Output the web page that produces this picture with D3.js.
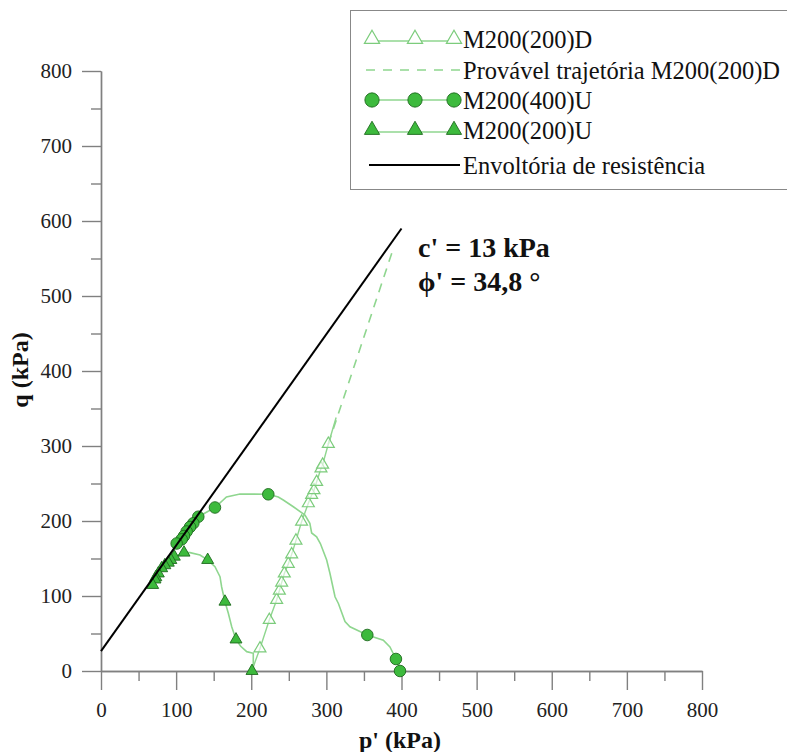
<!DOCTYPE html>
<html><head><meta charset="utf-8">
<script src="https://cdn.jsdelivr.net/npm/d3@7"></script>
<style>
html,body{margin:0;padding:0;background:#fff;}
svg text{font-family:"Liberation Serif","Times New Roman",serif !important;}
</style></head>
<body>
<svg id="chart" width="787" height="752"></svg>
<script>
// ---------- data ----------
const xTicks = [0,100,200,300,400,500,600,700,800];
const yTicks = [0,100,200,300,400,500,600,700,800];
const minorTicks = [50,150,250,350,450,550,650,750];

// M200(200)D  (drained, open triangles)
const d200Path = [[201,0],[205,12],[211.6,30],[224,68],[233.8,94.7],[237.4,107],[240.5,117.8],[244,130],[249.3,142.7],[253.8,155.5],[259.5,173.8],[267,199],[276,223.6],[280.4,234.7],[283.5,241],[287,252],[292.8,270],[295,275],[302.6,302.7],[313,338]];
const d200Markers = [[211.6,30],[224,68],[233.8,94.7],[237.4,107],[240.5,117.8],[244,130],[249.3,142.7],[253.8,155.5],[259.5,173.8],[267,199],[276,223.6],[280.4,234.7],[283.5,241],[287,252],[292.8,270],[295,275],[302.6,302.7]];
// Provável trajetória M200(200)D (dashed)
const d200Probable = [[302.6,302.7],[390,566]];

// M200(400)U (filled circles)
const u400Path = [[398,0],[397,8],[392.6,16],[384.6,32],[375.8,41],[354.5,48],[331.4,59],[324.8,66],[316,90],[311.5,99],[304.8,130],[300.4,148],[292,170],[287,179],[280.4,184],[278,197],[271.5,208],[256,219],[242.6,228],[236,232],[222.7,235.6],[185,236],[167,232],[151.7,218],[129.5,205.7],[122.9,197],[118.5,192],[114,186],[110.5,180],[107.4,175.6],[100.7,170],[97,168]];
const u400Markers = [[398,0],[392.6,16],[354.5,48],[222.7,235.6],[151.7,218],[129.5,205.7],[122.9,197],[118.5,192],[114,186],[110.5,180],[107.4,175.6],[100.7,170]];

// M200(200)U (filled triangles)
const u200Path = [[201,0],[202.7,10],[202.7,23.6],[194,25.8],[186,33],[179.7,42],[174,59],[169.5,77],[165,92.4],[160.6,112],[158.4,125.7],[151.7,139],[142,148],[131.8,154.7],[118.5,157.8],[110.5,157.8],[97.6,152.4],[89.6,144.4],[80.8,137],[76.3,130],[71.9,122],[68.8,114.7]];
const u200Markers = [[201,0],[179.7,42],[165,92.4],[142,148],[110.5,157.8],[97.6,152.4],[93,148],[89.6,144.4],[85,141],[80.8,137],[76.3,130],[73,125],[71.9,122],[68.8,114.7]];

// Envoltória de resistência (c' = 13 kPa, phi' = 34.8°)
const envelope = [[0,26.4],[400,590]];

const legendLabels = ["M200(200)D","Provável trajetória M200(200)D","M200(400)U","M200(200)U","Envoltória de resistência"];

// ---------- styles ----------
const lineGreen = "#8fd68f";
const openGreen = "#7ccc7c";
const fillGreen = "#3dba3d";
const darkGreen = "#1e6a1e";
const axisGray = "#808080";
const serif = "Liberation Serif";

const svg = d3.select("#chart");
const x = d3.scaleLinear().domain([0,800]).range([101,702]);
const y = d3.scaleLinear().domain([0,800]).range([671,71]);

// axes
const xAxisG = svg.append("g").attr("transform","translate(0,671)");
xAxisG.call(d3.axisBottom(x).tickValues(xTicks).tickSize(19).tickSizeOuter(0).tickPadding(12).tickFormat(d3.format("d")));
const xMinor = svg.append("g").attr("transform","translate(0,671)");
xMinor.call(d3.axisBottom(x).tickValues(minorTicks).tickSize(10).tickSizeOuter(0).tickFormat(""));
const yAxisG = svg.append("g").attr("transform","translate(101,0)");
yAxisG.call(d3.axisLeft(y).tickValues(yTicks).tickSize(19).tickSizeOuter(0).tickPadding(10).tickFormat(d3.format("d")));
const yMinor = svg.append("g").attr("transform","translate(101,0)");
yMinor.call(d3.axisLeft(y).tickValues(minorTicks).tickSize(10).tickSizeOuter(0).tickFormat(""));
[xAxisG,xMinor,yAxisG,yMinor].forEach(g=>g.attr("font-family",serif).attr("font-size",21));
svg.selectAll(".domain, .tick line").attr("stroke",axisGray).attr("stroke-width",1.4);
svg.selectAll(".tick text").style("font-family",serif).attr("font-size",21).attr("fill","#222");

// axis titles
svg.append("text").attr("x",400).attr("y",748).attr("text-anchor","middle")
  .attr("font-weight","bold").attr("font-size",24).attr("fill","#111").text("p' (kPa)");
svg.append("text").attr("transform","translate(28,370) rotate(-90)").attr("text-anchor","middle")
  .attr("font-weight","bold").attr("font-size",24).attr("fill","#111").text("q (kPa)");

const line = d3.line().x(d=>x(d[0])).y(d=>y(d[1]));
const tri = d3.symbol().type(d3.symbolTriangle);
const circ = d3.symbol().type(d3.symbolCircle);

// data lines
svg.append("path").datum(u400Path).attr("d",line).attr("fill","none").attr("stroke",lineGreen).attr("stroke-width",1.6);
svg.append("path").datum(u200Path).attr("d",line).attr("fill","none").attr("stroke",lineGreen).attr("stroke-width",1.6);
svg.append("path").datum(d200Path).attr("d",line).attr("fill","none").attr("stroke",lineGreen).attr("stroke-width",1.4);
svg.append("path").datum(d200Probable).attr("d",line).attr("fill","none").attr("stroke",lineGreen).attr("stroke-width",1.6).attr("stroke-dasharray","9,7");

// markers
svg.append("g").selectAll("path").data(d200Markers).join("path")
  .attr("d",tri.size(62)).attr("transform",d=>`translate(${x(d[0])},${y(d[1])})`)
  .attr("fill","#fff").attr("fill-opacity",0.6).attr("stroke",openGreen).attr("stroke-width",1.2);
svg.append("g").selectAll("path").data(u200Markers).join("path")
  .attr("d",tri.size(62)).attr("transform",d=>`translate(${x(d[0])},${y(d[1])})`)
  .attr("fill",fillGreen).attr("stroke",darkGreen).attr("stroke-width",0.9);
svg.append("g").selectAll("path").data(u400Markers).join("path")
  .attr("d",circ.size(105)).attr("transform",d=>`translate(${x(d[0])},${y(d[1])})`)
  .attr("fill",fillGreen).attr("stroke",darkGreen).attr("stroke-width",0.9);

// envelope
svg.append("path").datum(envelope).attr("d",line).attr("fill","none").attr("stroke","#000").attr("stroke-width",2);

// annotation
svg.append("text").attr("x",418).attr("y",257).attr("font-weight","bold").attr("font-size",28).attr("fill","#111").text("c' = 13 kPa");
svg.append("text").attr("x",418).attr("y",291).attr("font-weight","bold").attr("font-size",28).attr("fill","#111").text("ϕ' = 34,8 °");

// legend
const lg = svg.append("g");
lg.append("rect").attr("x",350.5).attr("y",10.5).attr("width",460).attr("height",179).attr("fill","#fff").attr("stroke","#888").attr("stroke-width",1);
const rowsY = [39,70,100,130,165];
const sx = [372,415,454];
const textX = 463;
// row 0 : open triangles
lg.append("line").attr("x1",sx[0]).attr("x2",sx[2]).attr("y1",rowsY[0]+2).attr("y2",rowsY[0]+2).attr("stroke",lineGreen).attr("stroke-width",1.4);
sx.forEach(px=>lg.append("path").attr("d",tri.size(100)).attr("transform",`translate(${px},${rowsY[0]})`).attr("fill","#fff").attr("stroke",openGreen).attr("stroke-width",1.2));
// row 1 : dashed
lg.append("line").attr("x1",366).attr("x2",460).attr("y1",rowsY[1]).attr("y2",rowsY[1]).attr("stroke",lineGreen).attr("stroke-width",1.6).attr("stroke-dasharray","9,8");
// row 2 : circles
lg.append("line").attr("x1",sx[0]).attr("x2",sx[2]).attr("y1",rowsY[2]).attr("y2",rowsY[2]).attr("stroke",lineGreen).attr("stroke-width",1.6);
sx.forEach(px=>lg.append("path").attr("d",circ.size(160)).attr("transform",`translate(${px},${rowsY[2]})`).attr("fill",fillGreen).attr("stroke",darkGreen).attr("stroke-width",0.9));
// row 3 : filled triangles
lg.append("line").attr("x1",sx[0]).attr("x2",sx[2]).attr("y1",rowsY[3]+2).attr("y2",rowsY[3]+2).attr("stroke",lineGreen).attr("stroke-width",1.6);
sx.forEach(px=>lg.append("path").attr("d",tri.size(100)).attr("transform",`translate(${px},${rowsY[3]})`).attr("fill",fillGreen).attr("stroke",darkGreen).attr("stroke-width",0.9));
// row 4 : black line
lg.append("line").attr("x1",369).attr("x2",460).attr("y1",rowsY[4]).attr("y2",rowsY[4]).attr("stroke","#000").attr("stroke-width",2);
legendLabels.forEach((t,i)=>lg.append("text").attr("x",textX).attr("y",rowsY[i]).attr("dy","0.35em").attr("font-size",24.5).attr("fill","#111").text(t));
</script>
</body></html>
